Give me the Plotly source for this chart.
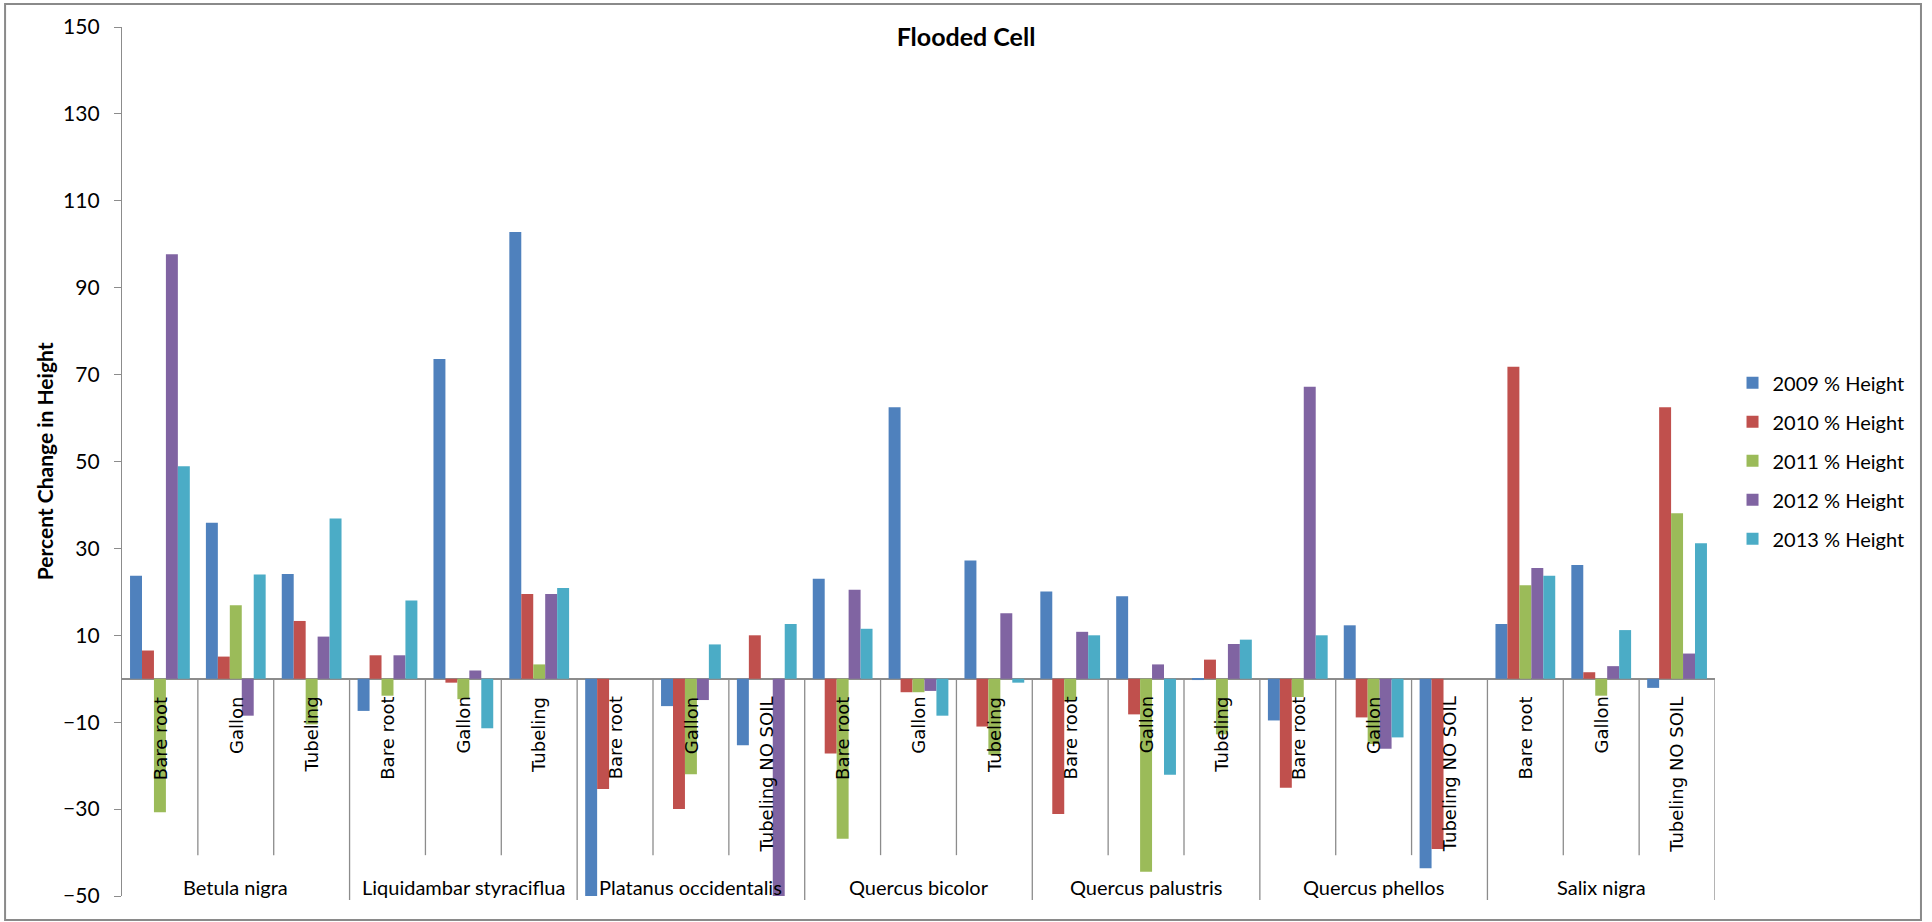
import plotly.graph_objects as go

# Species groups and planting stock for each bar cluster
groups = ["Betula nigra", "Liquidambar styraciflua", "Platanus occidentalis",
          "Quercus bicolor", "Quercus palustris", "Quercus phellos", "Salix nigra"]
stock = [
    "Bare root", "Gallon", "Tubeling",
    "Bare root", "Gallon", "Tubeling",
    "Bare root", "Gallon", "Tubeling NO SOIL",
    "Bare root", "Gallon", "Tubeling",
    "Bare root", "Gallon", "Tubeling",
    "Bare root", "Gallon", "Tubeling NO SOIL",
    "Bare root", "Gallon", "Tubeling NO SOIL",
]

# Percent change in height per year
h2009 = [23.7, 35.9, 24.1, -7.4, 73.6, 102.8, -51.5, -6.3, -15.3, 23.0, 62.5, 27.2,
         20.1, 19.0, -0.3, -9.6, 12.3, -43.6, 12.6, 26.2, -2.1]
h2010 = [6.5, 5.1, 13.3, 5.4, -0.9, 19.5, -25.4, -30.0, 10.0, -17.2, -3.1, -11.0,
         -31.1, -8.2, 4.4, -25.1, -8.9, -39.2, 71.8, 1.5, 62.5]
h2011 = [-30.7, 16.9, -10.5, -3.9, -4.7, 3.3, None, -22.0, None, -36.8, -3.1, -17.5,
         -5.0, -44.4, -12.8, -4.2, -15.0, None, 21.5, -3.9, 38.1]
h2012 = [97.7, -8.5, 9.7, 5.4, 1.9, 19.5, None, -4.9, -52.0, 20.5, -2.8, 15.1,
         10.8, 3.3, 8.0, 67.2, -16.1, None, 25.5, 2.9, 5.8]
h2013 = [48.9, 24.0, 36.9, 18.0, -11.4, 20.9, None, 7.9, 12.6, 11.5, -8.5, -0.9,
         10.0, -22.1, 9.0, 10.0, -13.5, None, 23.7, 11.2, 31.2]

series = [
    ("2009 % Height", h2009, "#4F81BD"),
    ("2010 % Height", h2010, "#C0504D"),
    ("2011 % Height", h2011, "#9BBB59"),
    ("2012 % Height", h2012, "#8064A2"),
    ("2013 % Height", h2013, "#4BACC6"),
]

per_group = 3
xpos = list(range(len(stock)))

fig = go.Figure()
for name, vals, color in series:
    fig.add_trace(go.Bar(
        x=xpos, y=vals, name=name, legendgroup=name,
        marker=dict(color=color, line=dict(width=0)),
    ))

LABEL_FONT = "Lato, Calibri, Carlito, Arial"
AX_GRAY = "#8C8C8C"

shapes = []
annotations = []

# Separators under the zero line: short ones between stock types, long ones between species
for i in range(len(stock)):
    edge = i + 0.5
    if (i + 1) % per_group == 0:
        shapes.append(dict(type="line", xref="x", yref="paper", x0=edge, x1=edge,
                           y0=0.25, y1=-0.0046, line=dict(color=AX_GRAY, width=1.3)))
    else:
        shapes.append(dict(type="line", xref="x", yref="y", x0=edge, x1=edge,
                           y0=0, y1=-40.6, line=dict(color=AX_GRAY, width=1.3)))

# Stock labels, rotated, hanging from the zero line
for i, s in enumerate(stock):
    annotations.append(dict(
        x=i, y=0, xref="x", yref="y", text=s, showarrow=False, textangle=-90,
        xanchor="center", yanchor="top", yshift=-16,
        font=dict(family="DejaVu Sans, Verdana", size=18, color="black"),
    ))

# Species labels at the bottom
for g_i, g in enumerate(groups):
    annotations.append(dict(
        x=g_i * per_group + (per_group - 1) / 2, y=-47.9, xref="x", yref="y",
        text=g, showarrow=False, xanchor="center", yanchor="middle",
        font=dict(family=LABEL_FONT, size=20, color="black"),
    ))

# Y axis title
annotations.append(dict(
    x=-0.0485, y=0.5, xref="paper", yref="paper", text="<b>Percent Change in Height</b>",
    showarrow=False, textangle=-90, xanchor="center", yanchor="middle",
    font=dict(family=LABEL_FONT, size=21, color="black"),
))

# Outer chart frame
shapes.append(dict(type="rect", xref="paper", yref="paper",
                   x0=-0.0734, x1=1.1293, y0=-0.0276, y1=1.0265,
                   line=dict(color="#8A8A8A", width=2), fillcolor="rgba(0,0,0,0)"))

fig.update_layout(
    width=1932, height=922,
    margin=dict(l=122, r=217, t=27, b=26),
    paper_bgcolor="white", plot_bgcolor="white",
    barmode="group", bargap=0.212, bargroupgap=0,
    title=dict(text="Flooded Cell", x=0.5, xref="container", y=0.960, yanchor="middle",
               xanchor="center",
               font=dict(family=LABEL_FONT, size=25, color="black", weight="bold")),
    xaxis=dict(range=[-0.5, len(stock) - 0.5], showticklabels=False, showgrid=False,
               zeroline=False, showline=False, ticks=""),
    yaxis=dict(range=[-50, 150], tick0=-50, dtick=20, showgrid=False,
               zeroline=True, zerolinecolor=AX_GRAY, zerolinewidth=2,
               showline=True, linecolor=AX_GRAY, linewidth=1.3,
               ticks="outside", ticklen=7, tickcolor=AX_GRAY, tickwidth=1.3,
               ticklabelstandoff=10,
               tickfont=dict(family=LABEL_FONT, size=21, color="black")),
    legend=dict(x=1.011, y=0.613, xanchor="left", yanchor="top",
                font=dict(family=LABEL_FONT, size=20, color="black"),
                tracegroupgap=10, traceorder="grouped", bgcolor="rgba(0,0,0,0)"),
    shapes=shapes,
    annotations=annotations,
    showlegend=True,
)

fig.write_html("out.html")
